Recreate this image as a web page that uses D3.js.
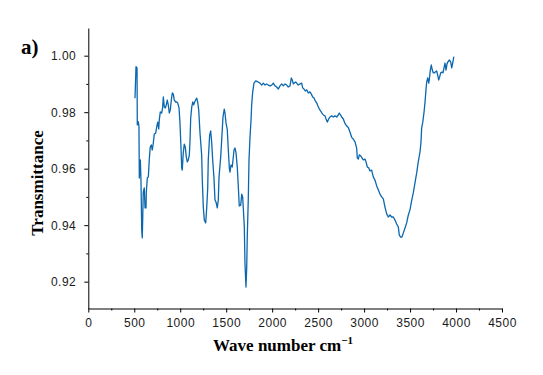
<!DOCTYPE html>
<html>
<head>
<meta charset="utf-8">
<script src="https://cdn.jsdelivr.net/npm/d3@7"></script>
<style>
  body { margin: 0; background: #fff; }
  svg { display: block; }
</style>
</head>
<body>
<div id="chart"></div>
<script>
// FTIR spectrum, values
const wavenumber = [
  508,519,530,533,544,551,555,566,573,581,587,592,598,609,617,628,631,642,653,663,
  674,685,696,707,718,733,744,755,766,772,783,798,809,816,827,838,848,859,870,881,
  892,903,914,925,935,951,962,972,987,997,1008,1016,1022,1033,1044,1055,1066,1077,1088,1099,
  1106,1114,1125,1136,1146,1157,1168,1179,1190,1201,
  1215,1233,1240,1251,1262,1277,1288,1299,1305,1320,1331,1342,1353,1367,1378,1389,1403,1414,1422,1440,
  1451,1465,1479,1487,1498,1512,1523,1534,1541,1552,1566,1585,1596,1607,1621,1632,1642,1658,1669,1679,
  1686,1697,1704,1715,1723,1729,1740,1748,1759,1770,1777,1788,1802,1821,
  1846,1868,1886,1904,1922,1940,1958,1976,1995,2012,2031,2049,2067,2085,2104,2121,2140,2158,2175,2194,
  2208,2219,2230,2241,2256,2267,2284,2303,2321,2332,2346,2360,2376,2393,2411,2426,2441,2455,2469,2484,
  2498,2513,2528,2542,2557,2575,2586,2600,2615,2629,2648,2665,2683,2702,2719,2730,2745,2756,
  2774,2792,2811,2828,2846,2865,2882,2901,2919,2926,2937,2948,2963,2977,2991,3010,3021,3035,3050,3064,
  3082,3100,3118,3137,3154,3173,3191,3209,3227,3246,3263,3282,3300,3318,3336,3354,3372,3383,3398,3412,
  3426,3445,3463,3481,3499,3518,3535,3553,3572,3589,3608,3619,3626,3637,3651,3662,3673,3681,3692,3703,
  3709,3720,3731,3742,3753,3763,3774,3789,3800,3811,3822,3833,3847,3858,3869,3880,3891,3902,3912,3927,
  3942,3953,3964,3975,3981
];
const transmittance = [
  0.9849,0.9961,0.9957,0.9755,0.9766,0.9749,0.9567,0.9631,0.9560,0.9383,0.9355,0.9425,0.9518,0.9532,0.9461,0.9461,0.9518,0.9567,0.9571,0.9631,
  0.9677,0.9684,0.9666,0.9691,0.9723,0.9726,0.9748,0.9765,0.9741,0.9772,0.9801,0.9797,0.9818,0.9854,0.9818,0.9815,0.9826,0.9843,0.9826,0.9797,
  0.9808,0.9843,0.9868,0.9864,0.9843,0.9836,0.9836,0.9833,0.9815,0.9762,0.9677,0.9603,0.9595,0.9656,0.9687,0.9677,0.9641,0.9624,0.9631,0.9649,
  0.9695,0.9780,0.9818,0.9836,0.9826,0.9836,0.9843,0.9850,0.9836,0.9808,
  0.9726,0.9649,0.9560,0.9464,0.9418,0.9408,0.9461,0.9532,0.9631,0.9719,0.9734,0.9694,0.9631,0.9567,0.9489,0.9482,0.9461,0.9489,0.9571,0.9641,
  0.9702,0.9783,0.9811,0.9797,0.9762,0.9737,0.9666,0.9603,0.9588,0.9613,0.9606,0.9666,0.9673,0.9656,0.9603,0.9535,0.9468,0.9471,0.9510,0.9500,
  0.9461,0.9394,0.9266,0.9181,0.9249,0.9358,0.9489,0.9631,0.9712,0.9772,0.9826,0.9871,0.9903,0.9911,
  0.9907,0.9903,0.9896,0.9903,0.9896,0.9900,0.9896,0.9893,0.9896,0.9903,0.9893,0.9889,0.9882,0.9893,0.9900,0.9893,0.9900,0.9896,0.9889,0.9893,
  0.9921,0.9914,0.9900,0.9903,0.9907,0.9903,0.9896,0.9900,0.9903,0.9886,0.9882,0.9875,0.9879,0.9868,0.9872,0.9864,0.9854,0.9850,0.9840,0.9833,
  0.9822,0.9811,0.9804,0.9797,0.9790,0.9787,0.9776,0.9765,0.9776,0.9783,0.9787,0.9783,0.9787,0.9783,0.9790,0.9797,0.9790,0.9783,
  0.9776,0.9760,0.9751,0.9746,0.9730,0.9711,0.9705,0.9695,0.9673,0.9638,0.9634,0.9649,0.9645,0.9638,0.9631,0.9634,0.9624,0.9606,0.9603,0.9592,
  0.9595,0.9571,0.9560,0.9539,0.9525,0.9510,0.9500,0.9493,0.9464,0.9440,0.9429,0.9436,0.9429,0.9429,0.9418,0.9404,0.9394,0.9365,0.9358,0.9358,
  0.9372,0.9390,0.9408,0.9436,0.9454,0.9489,0.9514,0.9549,0.9585,0.9624,0.9659,0.9695,0.9744,0.9762,0.9797,0.9833,0.9879,0.9907,0.9921,0.9903,
  0.9914,0.9949,0.9967,0.9949,0.9939,0.9939,0.9942,0.9946,0.9932,0.9914,0.9925,0.9939,0.9942,0.9939,0.9957,0.9974,0.9949,0.9971,0.9978,0.9985,
  0.9978,0.9957,0.9974,0.9995,0.9995
];
const xTicks = [0, 500, 1000, 1500, 2000, 2500, 3000, 3500, 4000, 4500];
const xMinor = [250, 750, 1250, 1750, 2250, 2750, 3250, 3750, 4250];
const yTicks = [0.92, 0.94, 0.96, 0.98, 1.00];
const yMinor = [0.93, 0.95, 0.97, 0.99];

const W = 543, H = 375;
const svg = d3.select("#chart").append("svg")
  .attr("width", W)
  .attr("height", H);

const x = d3.scaleLinear().domain([0, 4500]).range([88.3, 502]);
const y = d3.scaleLinear().domain([0.9105, 1.0098]).range([308.5, 28]);

const data = wavenumber.map((w, i) => ({ w, t: transmittance[i] }));

// spectrum
svg.append("path")
  .datum(data)
  .attr("fill", "none")
  .attr("stroke", "#0b67ae")
  .attr("stroke-width", 1.3)
  .attr("stroke-linejoin", "round")
  .attr("d", d3.line().x(d => x(d.w)).y(d => y(d.t)));

const tickFont = "'Liberation Sans', Arial, sans-serif";

// x axis
svg.append("g")
  .attr("transform", `translate(0,${y.range()[0]})`)
  .call(d3.axisBottom(x).tickValues(xTicks).tickFormat(d3.format("d"))
    .tickSize(4).tickSizeOuter(0).tickPadding(6));
svg.append("g")
  .attr("transform", `translate(0,${y.range()[0]})`)
  .call(d3.axisBottom(x).tickValues(xMinor).tickSize(2).tickFormat(""))
  .call(g => g.select(".domain").remove());

// y axis
svg.append("g")
  .attr("transform", `translate(${x.range()[0]},0)`)
  .call(d3.axisLeft(y).tickValues(yTicks).tickFormat(d3.format(".2f"))
    .tickSize(4).tickSizeOuter(0).tickPadding(8));
svg.append("g")
  .attr("transform", `translate(${x.range()[0]},0)`)
  .call(d3.axisLeft(y).tickValues(yMinor).tickSize(2).tickFormat(""))
  .call(g => g.select(".domain").remove());

svg.selectAll(".tick text")
  .style("font-family", tickFont)
  .style("font-size", "12px")
  .style("letter-spacing", "0.5px")
  .attr("fill", "#1a1a1a");
svg.selectAll(".domain, .tick line").attr("stroke", "#000").attr("stroke-width", 1);

// titles
const serif = "'Liberation Serif', 'Times New Roman', serif";
svg.append("text")
  .attr("transform", "translate(43,183) rotate(-90)")
  .attr("text-anchor", "middle")
  .style("font-family", serif)
  .style("font-weight", "bold")
  .style("font-size", "17px")
  .text("Transmittance");

const xt = svg.append("text")
  .attr("x", 283)
  .attr("y", 351)
  .attr("text-anchor", "middle")
  .style("font-family", serif)
  .style("font-weight", "bold")
  .style("font-size", "17px")
  .text("Wave number cm");
xt.append("tspan")
  .attr("dy", -7)
  .style("font-size", "11px")
  .text("\u22121");

svg.append("text")
  .attr("x", 21)
  .attr("y", 54)
  .style("font-family", serif)
  .style("font-weight", "bold")
  .style("font-size", "21px")
  .text("a)");
</script>
</body>
</html>
